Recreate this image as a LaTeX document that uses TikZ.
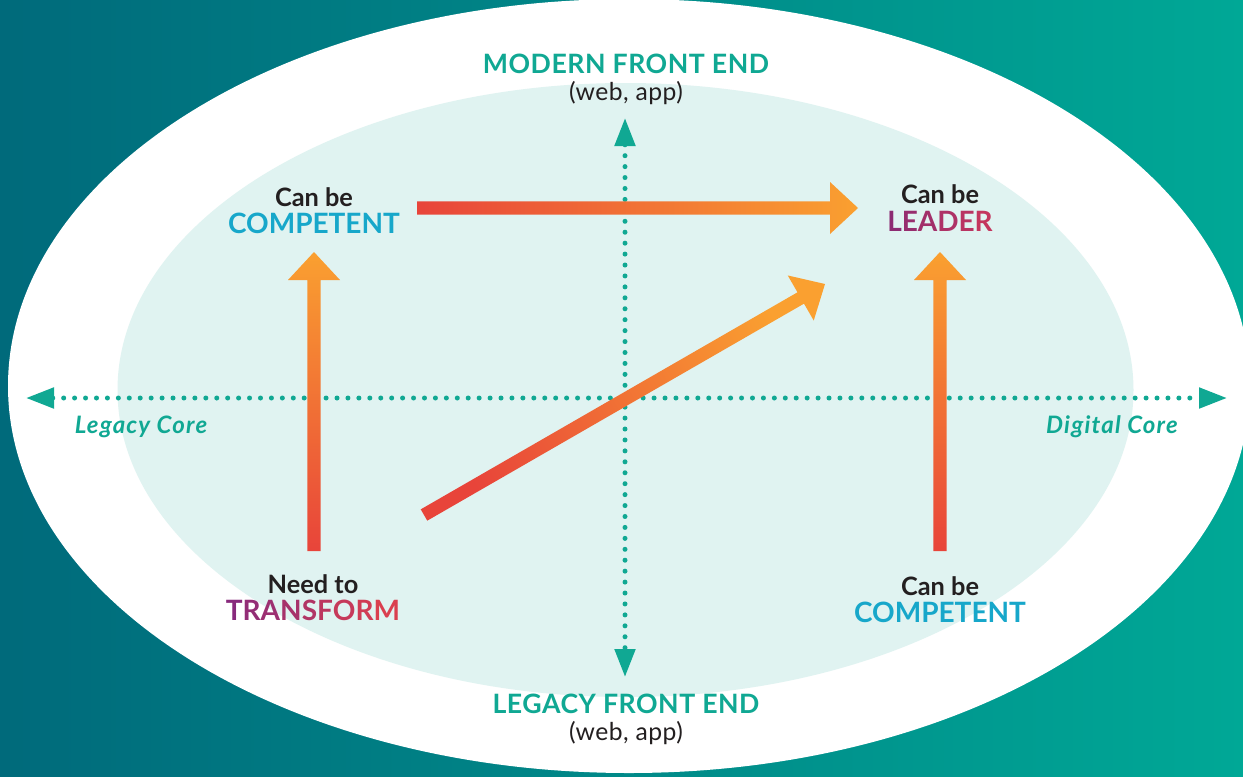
\documentclass[tikz,border=0pt]{standalone}
\usepackage{fontspec}
\setmainfont{Lato}
\usetikzlibrary{arrows.meta,calc}

\definecolor{bgleft}{HTML}{006A7B}
\definecolor{bgright}{HTML}{00A896}
\definecolor{innerfill}{HTML}{E0F3F1}
\definecolor{axisteal}{HTML}{10A893}
\definecolor{ink}{HTML}{231F20}
\definecolor{cyanword}{HTML}{17A7CA}
\definecolor{plumA}{HTML}{8C2B72}
\definecolor{plumB}{HTML}{C4365E}
\definecolor{transA}{HTML}{882A7C}
\definecolor{transB}{HTML}{DA3F4F}
\definecolor{arrowred}{HTML}{E8443A}
\definecolor{arroworange}{HTML}{FAA030}

% fat shaded arrow: start, tip, shading angle
\newcommand{\fatarrow}[3]{%
  \coordinate (neck) at ($(#2)!21pt!(#1)$);
  \shade[top color=arroworange, bottom color=arrowred, shading angle=#3]
    ($(#1)!4.9pt!90:(#2)$) -- ($(neck)!4.9pt!90:(#2)$) -- ($(neck)!19.5pt!90:(#2)$)
    -- (#2) -- ($(neck)!19.5pt!-90:(#2)$) -- ($(neck)!4.9pt!-90:(#2)$)
    -- ($(#1)!4.9pt!-90:(#2)$) -- cycle;
}

\tikzset{
  axisline/.style={axisteal, line width=3.75pt, line cap=round,
    dash pattern=on 0pt off 8.2pt,
    {Triangle[length=21pt,width=15pt]}-{Triangle[length=21pt,width=15pt]}},
  txt/.style={inner sep=0pt, anchor=base},
  axislabel/.style={txt, text=axisteal,
    font=\bfseries\fontsize{20}{23}\selectfont\addfontfeature{LetterSpace=2}},
  sublabel/.style={txt, text=ink,
    font=\fontsize{18.5}{21}\selectfont\addfontfeature{LetterSpace=2}},
  canbe/.style={txt, text=ink, font=\bfseries\fontsize{19}{22}\selectfont},
  bigword/.style={txt, font=\bfseries\fontsize{21}{24}\selectfont},
  corelabel/.style={txt, text=axisteal,
    font=\bfseries\itshape\fontsize{18}{21}\selectfont\addfontfeature{LetterSpace=5}}
}

\begin{document}
\begin{tikzpicture}[x=0.75pt, y=-0.75pt]
  \useasboundingbox (0,0) rectangle (1243,776);
  \clip (0,0) rectangle (1243,776);

  % background and the two ellipses
  \shade[left color=bgleft, right color=bgright] (0,0) rectangle (1243,776);
  \fill[white] (629,386) ellipse [x radius=621, y radius=387];
  \fill[innerfill] (625.5,390) ellipse [x radius=508, y radius=307];

  % dotted axes
  \coordinate (west) at (26,398);
  \coordinate (east) at (1227,398);
  \coordinate (north) at (625,118);
  \coordinate (south) at (625,677);
  \draw[axisline] (west) -- (east);
  \draw[axisline] (north) -- (south);

  % axis labels
  \node[axislabel] (modern) at (626,73) {MODERN FRONT END};
  \node[sublabel] (modernsub) at (626,100) {(web, app)};
  \node[axislabel] (legacy) at (626,713) {LEGACY FRONT END};
  \node[sublabel] (legacysub) at (626,740) {(web, app)};
  \node[corelabel] (legacycore) at (141,433) {Legacy Core};
  \node[corelabel] (digitalcore) at (1112,433) {Digital Core};

  % quadrant labels
  \node[canbe] (tlcan) at (314,206) {Can be};
  \node[bigword, text=cyanword] (tlword) at (314,233) {COMPETENT};
  \node[canbe] (trcan) at (940,203) {Can be};
  \node[bigword] (trword) at (940,231) {\textcolor{plumA}{L}\textcolor{plumA!80!plumB}{E}\textcolor{plumA!60!plumB}{A}\textcolor{plumA!40!plumB}{D}\textcolor{plumA!20!plumB}{E}\textcolor{plumB}{R}};
  \node[canbe] (blcan) at (313,593) {Need to};
  \node[bigword] (blword) at (313,620) {\textcolor{transA}{T}\textcolor{transA!87!transB}{R}\textcolor{transA!75!transB}{A}\textcolor{transA!62!transB}{N}\textcolor{transA!50!transB}{S}\textcolor{transA!37!transB}{F}\textcolor{transA!25!transB}{O}\textcolor{transA!12!transB}{R}\textcolor{transB}{M}};
  \node[canbe] (brcan) at (940,595) {Can be};
  \node[bigword, text=cyanword] (brword) at (940,622) {COMPETENT};

  % moves between quadrants
  \coordinate (topstart) at (417,208);
  \coordinate (toptip) at (858,208);
  \coordinate (leftstart) at (314,551);
  \coordinate (lefttip) at (314,252);
  \coordinate (rightstart) at (940,551);
  \coordinate (righttip) at (940,252);
  \coordinate (diagstart) at (424,515);
  \coordinate (diagtip) at (825,284);
  \fatarrow{topstart}{toptip}{-90}
  \fatarrow{leftstart}{lefttip}{0}
  \fatarrow{rightstart}{righttip}{0}
  \fatarrow{diagstart}{diagtip}{-60}
\end{tikzpicture}
\end{document}
